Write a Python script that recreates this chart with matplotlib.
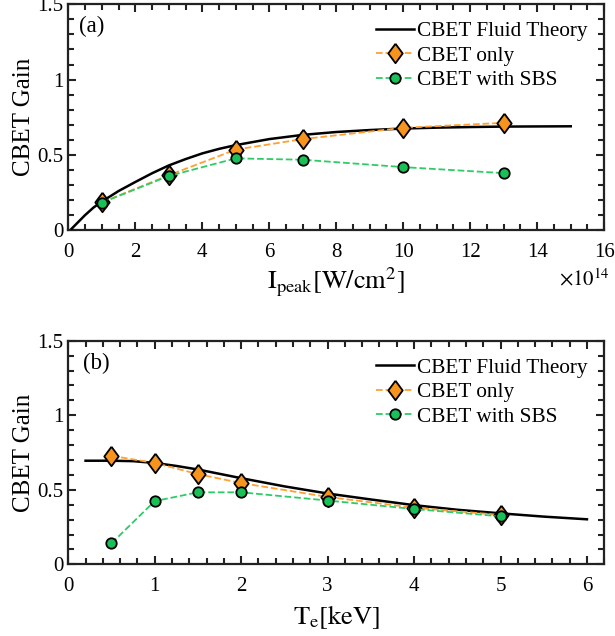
import matplotlib
matplotlib.use('Agg')
import matplotlib.pyplot as plt
from matplotlib.ticker import MultipleLocator

plt.rcParams['font.family'] = ['Liberation Serif', 'DejaVu Serif']
plt.rcParams['mathtext.fontset'] = 'stix'

# panel (a): peak intensity in units of 1e14 W/cm^2
ipeak_theory = [0.1, 0.3, 0.5, 0.75, 1, 1.5, 2, 2.5, 3, 3.5, 4, 4.5, 5, 6, 7, 8, 9, 10,
                11, 12, 13, 14, 15]
gain_theory_a = [0.01, 0.055, 0.10, 0.15, 0.19, 0.26, 0.32, 0.378, 0.43, 0.472, 0.51,
                 0.54, 0.565, 0.605, 0.633, 0.652, 0.665, 0.675, 0.681, 0.685, 0.688,
                 0.689, 0.69]
ipeak_sim = [1, 3, 5, 7, 10, 13]
gain_cbet_a = [0.185, 0.365, 0.535, 0.605, 0.68, 0.713]
gain_sbs_a = [0.183, 0.36, 0.477, 0.468, 0.419, 0.379]

# panel (b): electron temperature in keV
te_theory = [0.2, 0.5, 0.75, 1, 1.25, 1.5, 1.75, 2, 2.5, 3, 3.5, 4, 4.5, 5, 5.5, 6]
gain_theory_b = [0.695, 0.695, 0.692, 0.68, 0.66, 0.636, 0.607, 0.578, 0.523, 0.475,
                 0.435, 0.397, 0.366, 0.342, 0.32, 0.302]
te_sim = [0.5, 1, 1.5, 2, 3, 4, 5]
gain_cbet_b = [0.728, 0.68, 0.605, 0.545, 0.452, 0.38, 0.331]
gain_sbs_b = [0.141, 0.424, 0.483, 0.483, 0.428, 0.371, 0.322]

orange_line = '#FFA030'
orange_face = '#F7941D'
green_line = '#2ECC66'
green_face = '#19C058'

# MATLAB-style diamond: taller than wide
diamond = [(0, 1), (0.74, 0), (0, -1), (-0.74, 0), (0, 1)]

fig = plt.figure(figsize=(6.15, 6.36), dpi=100)
ax1 = fig.add_axes([0.111, 0.638, 0.8715, 0.3553])
ax2 = fig.add_axes([0.111, 0.1127, 0.8715, 0.3516])


def draw_panel(ax, xt, yt, xs, yc, ys):
    ax.plot(xt, yt, color='black', lw=1.8, label='CBET Fluid Theory', zorder=3)
    ax.plot(xs, yc, ls='--', color=orange_line, lw=1.3, marker=diamond, ms=14,
            mfc=orange_face, mec='black', mew=1.3, label='CBET only', zorder=4)
    ax.plot(xs, ys, ls='--', color=green_line, lw=1.3, marker='o', ms=7.5,
            mfc=green_face, mec='black', mew=1.3, label='CBET with SBS', zorder=5)
    ax.set_ylim(0, 1.5)
    ax.set_yticks([0, 0.5, 1, 1.5])
    ax.set_yticklabels(['0', '0.5', '1', '1.5'])
    ax.yaxis.set_minor_locator(MultipleLocator(0.1))
    ax.tick_params(which='both', direction='in', top=True, right=True,
                   labelsize=15, width=1.5, color='#222222')
    ax.tick_params(which='major', length=6)
    ax.tick_params(which='minor', length=4)
    ax.tick_params(axis='x', pad=9)
    for s in ax.spines.values():
        s.set_linewidth(1.6)
        s.set_color('#222222')
    ax.set_ylabel('CBET Gain', fontsize=18, labelpad=2)
    ax.legend(loc='upper right', frameon=False, fontsize=15.3, handlelength=1.75,
              handletextpad=0.15, labelspacing=0.22, borderaxespad=0.4,
              borderpad=0.4)


draw_panel(ax1, ipeak_theory, gain_theory_a, ipeak_sim, gain_cbet_a, gain_sbs_a)
ax1.set_xlim(0, 16)
ax1.set_xticks(range(0, 17, 2))
ax1.xaxis.set_minor_locator(MultipleLocator(0.5))
ax1.set_xlabel(r'$\mathrm{I_{peak}[W/cm^2]}$', fontsize=19, labelpad=3)
ax1.text(1.01, -0.22, r'$\times10^{14}$', transform=ax1.transAxes,
         ha='right', va='center', fontsize=15)
ax1.text(0.02, 0.902, '(a)', transform=ax1.transAxes, ha='left', va='center', fontsize=16.5)

draw_panel(ax2, te_theory, gain_theory_b, te_sim, gain_cbet_b, gain_sbs_b)
ax2.set_xlim(0, 6.2)
ax2.set_xticks(range(0, 7))
ax2.xaxis.set_minor_locator(MultipleLocator(0.2))
ax2.set_xlabel(r'$\mathrm{T_e[keV]}$', fontsize=19, labelpad=5)
ax2.text(0.027, 0.9, '(b)', transform=ax2.transAxes, ha='left', va='center', fontsize=16.5)

fig.savefig('out.png', dpi=100)
